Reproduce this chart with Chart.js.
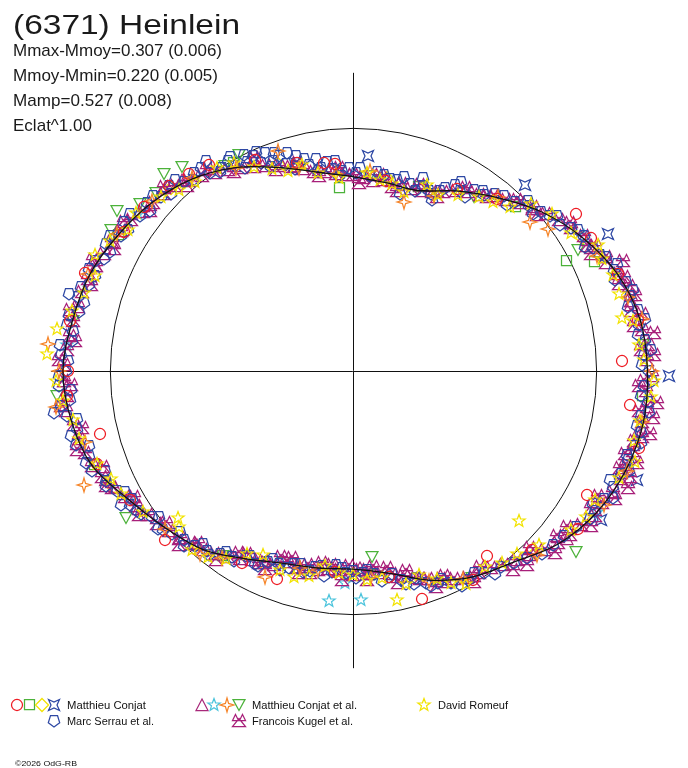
<!DOCTYPE html>
<html>
<head>
<meta charset="utf-8">
<title>(6371) Heinlein</title>
<script src="https://cdn.jsdelivr.net/npm/chart.js@4.4.1/dist/chart.umd.min.js"></script>
<style>
  body { margin: 0; background: #fff; }
  canvas { display: block; }
</style>
</head>
<body>
<canvas id="lightcurve" width="688" height="768"></canvas>
<script>
// polar light curve: angle = rotational phase in degrees (clockwise from top),
// radius = relative flux (1 = mean, the reference circle)

// fitted model
const modelAngle = [0, 10, 20, 30, 40, 50, 60, 70, 80, 90, 100, 110, 120, 130, 140, 150, 160, 170,
                    180, 190, 200, 210, 220, 230, 240, 250, 260, 270, 280, 290, 300, 310, 320, 330, 340, 350];
const modelRadius = [0.795, 0.782, 0.785, 0.850, 0.925, 1.012, 1.090, 1.158, 1.200, 1.212, 1.214, 1.195,
                     1.160, 1.105, 1.026, 0.978, 0.914, 0.843, 0.814, 0.822, 0.841, 0.890, 0.958, 1.005,
                     1.062, 1.141, 1.176, 1.192, 1.171, 1.151, 1.113, 1.074, 1.025, 0.960, 0.885, 0.825];

// observations, [angle, radius]
const conjatCircle = [[55,1.12],[61,1.12],[88,1.11],[97,1.15],[118,1.09],[144,0.94],[163,0.98],[200,0.91],
  [256,1.07],[228,1.04],[301,1.10],[325,1.03],[352,0.86],[355,0.85],[30,0.86],[70,1.16],[105,1.22],
  [125,1.13],[150,0.99],[185,0.83],[240,1.06],[265,1.18],[280,1.18],[290,1.17],[308,1.09],[315,1.07],[335,0.95],
  [10,0.79],[40,0.92],[80,1.19],[135,1.04],[170,0.86],[210,0.91],[250,1.12],[270,1.17],[320,1.05],[345,0.88]];
const conjatSquare = [[356,0.75],[63,0.99],[66,1.09],[20,0.80],[45,0.95],[95,1.20],[175,0.84],[215,0.93],
  [250,1.13],[300,1.11],[330,0.98]];
const conjatDiamond = [[10,0.80],[60,1.09],[135,1.06],[205,0.87],[245,1.10],[315,1.06],[340,0.90]];
const conjatCross = [[4,0.88],[43,1.04],[62,1.19],[91,1.30],[111,1.25],[121,1.19]];

const teamTriangle = [[14,0.79],[48,0.99],[76,1.18],[102,1.20],[128,1.12],[156,0.95],[178,0.81],[196,0.82],
  [222,0.96],[244,1.09],[268,1.19],[292,1.14],[318,1.05],[344,0.87]];
const teamStar = [[186,0.95],[178,0.94],[182,0.87],[306,1.09],[60,1.10],[240,1.06],[275,1.18],[120,1.16]];
const teamSparkle = [[341,0.95],[50,0.95],[54,0.99],[17,0.72],[275,1.26],[263,1.23],[247,1.20],[203,0.92],
  [75,1.17],[100,1.21],[118,1.17],[135,1.07],[160,0.92],[190,0.83],[215,0.94],[230,1.01],[290,1.16],
  [310,1.08],[330,0.96],[355,0.81],[25,0.79],[152,0.97],[80,1.21],
  [5,0.82],[40,0.93],[65,1.11],[90,1.23],[110,1.20],[175,0.85],[195,0.84],[220,0.98],[255,1.14],
  [270,1.21],[300,1.12],[320,1.03],[345,0.86]];
const teamDown = [[316,1.12],[320,1.09],[304,1.17],[308,1.11],[300,1.15],[312,1.09],[328,0.99],[332,1.00],
  [265,1.22],[237,1.11],[174,0.77],[129,1.18],[62,1.05],[85,1.20],[110,1.19],[150,0.98],[200,0.84],
  [215,0.93],[280,1.17],[35,0.87],[5,0.80]];

const romeuf = [[8,0.79],[16,0.76],[26,0.80],[36,0.88],[44,0.93],[52,1.04],[58,1.06],[66,1.12],[74,1.14],
  [79,1.13],[80,1.17],[88,1.20],[95,1.23],[104,1.19],[112,1.18],[118,1.13],[126,1.11],[132,0.92],[133,1.05],
  [138,1.01],[146,0.97],[152,0.99],[158,0.92],[166,0.90],[169,0.96],[176,0.86],[184,0.83],[192,0.86],
  [200,0.87],[206,0.84],[214,0.93],[222,0.99],[228,0.96],[230,0.94],[242,1.08],[250,1.12],[256,1.16],
  [264,1.20],[273,1.26],[278,1.23],[286,1.15],[294,1.16],[302,1.09],[312,1.06],[320,1.01],[326,1.00],
  [334,0.93],[342,0.86],[350,0.82],[356,0.79],
  [4,0.81],[12,0.78],[22,0.82],[31,0.84],[40,0.90],[47,1.00],[63,1.13],[70,1.14],[85,1.18],[92,1.24],
  [100,1.20],[108,1.22],[122,1.13],[142,1.00],[155,0.96],[162,0.88],[172,0.86],[180,0.84],[188,0.81],
  [196,0.88],[210,0.87],[218,0.97],[236,1.04],[246,1.09],[260,1.17],[268,1.22],[282,1.18],[290,1.13],
  [298,1.13],[306,1.10],[316,1.03],[330,0.98],[338,0.89],[346,0.87]];

const serrau = [[1,0.81],[5,0.80],[9,0.81],[13,0.80],[17,0.80],[21,0.81],[24,0.79],[27,0.84],[31,0.86],
  [34,0.89],[37,0.90],[41,0.95],[44,0.96],[47,0.99],[50,1.01],[53,1.05],[57,1.07],[60,1.10],[63,1.11],
  [66,1.14],[69,1.15],[72,1.18],[75,1.18],[78,1.20],[81,1.19],[84,1.21],[87,1.20],[90,1.22],[93,1.20],
  [96,1.22],[99,1.20],[102,1.21],[105,1.20],[108,1.19],[111,1.18],[114,1.17],[117,1.16],[120,1.15],
  [125,1.12],[131,1.09],[137,1.05],[143,1.01],[147,0.99],[151,0.98],[155,0.96],[158,0.94],[161,0.92],
  [164,0.91],[167,0.88],[170,0.86],[174,0.84],[177,0.83],[180,0.82],[183,0.81],[186,0.83],[189,0.81],
  [192,0.84],[195,0.82],[198,0.85],[201,0.85],[204,0.86],[207,0.89],[210,0.88],[213,0.91],[216,0.93],
  [219,0.95],[222,0.97],[225,0.98],[228,1.00],[231,1.03],[234,1.02],[237,1.06],[240,1.05],[243,1.09],
  [246,1.11],[249,1.15],[252,1.14],[255,1.18],[258,1.16],[261,1.19],[264,1.17],[267,1.21],[270,1.18],
  [273,1.20],[276,1.16],[279,1.19],[282,1.15],[285,1.17],[288,1.14],[291,1.16],[294,1.12],[297,1.14],
  [300,1.10],[303,1.12],[306,1.08],[309,1.09],[312,1.06],[315,1.07],[318,1.04],[321,1.04],[324,1.00],
  [327,0.99],[330,0.97],[333,0.96],[336,0.93],[339,0.92],[342,0.89],[345,0.88],[348,0.86],[351,0.84],
  [354,0.83],[357,0.82],[333,0.99],[338,0.96],[343,0.93],
  [2,0.83],[7,0.82],[11,0.80],[15,0.82],[19,0.78],[23,0.80],[26,0.82],[29,0.87],[33,0.85],[36,0.91],
  [39,0.93],[43,0.93],[46,1.00],[49,0.98],[52,1.03],[55,1.04],[58,1.09],[62,1.08],[65,1.12],[68,1.17],
  [71,1.14],[74,1.20],[77,1.16],[80,1.22],[83,1.18],[86,1.23],[89,1.19],[92,1.23],[95,1.19],[98,1.23],
  [101,1.19],[104,1.22],[107,1.18],[110,1.21],[113,1.15],[116,1.19],[119,1.13],[122,1.15],[128,1.10],
  [134,1.08],[140,1.03],[145,1.02],[149,0.97],[153,0.99],[157,0.93],[160,0.94],[163,0.89],[166,0.90],
  [169,0.85],[172,0.87],[176,0.82],[179,0.85],[182,0.83],[185,0.80],[188,0.85],[191,0.82],[194,0.85],
  [197,0.83],[200,0.87],[203,0.84],[206,0.89],[209,0.87],[212,0.92],[215,0.91],[218,0.96],[221,0.94],
  [224,1.00],[227,0.97],[230,1.02],[233,1.00],[236,1.05],[239,1.07],[242,1.06],[245,1.12],[248,1.10],
  [251,1.16],[254,1.13],[257,1.19],[260,1.15],[263,1.21],[266,1.16],[269,1.21],[272,1.17],[275,1.21],
  [278,1.16],[281,1.19],[284,1.14],[287,1.17],[290,1.13],[293,1.15],[296,1.11],[299,1.14],[302,1.09],
  [305,1.12],[308,1.06],[311,1.09],[314,1.04],[317,1.07],[320,1.02],[323,1.04],[326,0.98],[329,1.00],
  [332,0.94],[335,0.97],[338,0.90],[341,0.93],[344,0.86],[347,0.89],[350,0.83],[353,0.86],[356,0.80],
  [359,0.83],
  [325,1.05],[330,1.01],[336,0.98],[340,0.95],[345,0.91],[350,0.88],[355,0.86],[20,0.84],[30,0.89],
  [15,0.75],[25,0.77],[262,1.24],[285,1.21],[240,1.10]];

const kugel = [[0,0.80],[3,0.79],[6,0.78],[9,0.79],[12,0.77],[15,0.79],[18,0.78],[21,0.79],[24,0.80],
  [27,0.82],[30,0.85],[33,0.87],[36,0.89],[39,0.92],[42,0.94],[45,0.97],[48,1.00],[51,1.02],[54,1.05],
  [57,1.07],[60,1.10],[63,1.12],[64,1.09],[66,1.14],[68,1.20],[70,1.16],[72,1.15],[73,1.19],[76,1.18],
  [78,1.17],[79,1.21],[82,1.20],[83,1.25],[85,1.22],[86,1.19],[88,1.21],[91,1.23],[92,1.20],[94,1.21],
  [96,1.26],[97,1.22],[99,1.25],[100,1.21],[103,1.22],[104,1.19],[106,1.20],[108,1.23],[109,1.19],
  [110,1.17],[112,1.19],[113,1.23],[115,1.18],[117,1.13],[118,1.16],[121,1.16],[124,1.13],[126,1.09],
  [127,1.12],[130,1.10],[133,1.08],[136,1.05],[138,1.07],[139,1.03],[142,1.01],[145,0.99],[148,0.98],
  [151,0.97],[154,0.95],[157,0.93],[160,0.91],[162,0.90],[163,0.89],[166,0.87],[169,0.85],[170,0.82],
  [172,0.84],[175,0.83],[176,0.86],[178,0.82],[181,0.80],[183,0.86],[184,0.82],[186,0.80],[187,0.82],
  [190,0.83],[192,0.85],[193,0.82],[196,0.84],[198,0.81],[199,0.83],[202,0.86],[205,0.86],[206,0.88],
  [208,0.88],[210,0.87],[211,0.90],[214,0.92],[217,0.94],[220,0.96],[223,0.97],[226,0.99],[229,1.00],
  [232,1.02],[235,1.03],[238,1.05],[241,1.07],[244,1.10],[247,1.12],[250,1.14],[253,1.15],[256,1.16],
  [259,1.17],[262,1.19],[265,1.18],[268,1.19],[271,1.19],[274,1.18],[277,1.17],[280,1.17],[283,1.16],
  [286,1.16],[289,1.15],[292,1.14],[295,1.13],[298,1.12],[301,1.11],[304,1.10],[307,1.08],[310,1.07],
  [313,1.06],[316,1.05],[319,1.03],[322,1.01],[325,0.99],[328,0.97],[331,0.95],[334,0.93],[337,0.91],
  [340,0.89],[343,0.87],[346,0.85],[349,0.83],[352,0.82],[355,0.81],[358,0.80],
  [2,0.77],[8,0.81],[14,0.76],[20,0.81],[26,0.79],[32,0.88],[38,0.90],[44,0.97],[50,0.99],[56,1.08],
  [62,1.09],[67,1.13],[71,1.18],[75,1.20],[81,1.17],[87,1.24],[93,1.18],[98,1.19],[102,1.25],[107,1.17],
  [111,1.22],[116,1.20],[120,1.13],[123,1.17],[129,1.08],[132,1.12],[135,1.03],[141,1.05],[147,0.96],
  [150,1.00],[156,0.92],[159,0.95],[165,0.85],[168,0.89],[174,0.81],[180,0.84],[189,0.80],[195,0.86],
  [201,0.82],[204,0.89],[212,0.88],[216,0.96],[222,0.95],[225,1.01],[231,0.99],[236,1.06],[240,1.04],
  [245,1.12],[249,1.10],[254,1.18],[258,1.14],[263,1.21],[267,1.16],[272,1.21],[276,1.15],[282,1.19],
  [288,1.13],[293,1.16],[297,1.10],[303,1.12],[308,1.06],[314,1.08],[318,1.02],[324,1.02],[329,0.95],
  [335,0.96],[339,0.88],[345,0.88],[350,0.81],[356,0.83]];

const colors = {
  red: '#ee1c24', green: '#4cb23a', yellow: '#f2e300', blue: '#2e48a4',
  purple: '#a8287a', cyan: '#4cc4dc', orange: '#f6862a', magenta: '#a8207a'
};

// small open markers drawn once, used as pointStyle images
function marker(kind, color) {
  const c = document.createElement('canvas');
  c.width = 18; c.height = 18;
  const g = c.getContext('2d');
  g.strokeStyle = color;
  g.lineWidth = 1.25;
  g.lineJoin = 'miter';
  g.beginPath();
  const poly = pts => {
    pts.forEach((p, i) => i ? g.lineTo(p[0], p[1]) : g.moveTo(p[0], p[1]));
    g.closePath();
  };
  const star = (n, ro, ri) => {
    const pts = [];
    for (let i = 0; i < 2 * n; i++) {
      const a = i * Math.PI / n, rr = i % 2 ? ri : ro;
      pts.push([9 + rr * Math.sin(a), 9 - rr * Math.cos(a)]);
    }
    poly(pts);
  };
  switch (kind) {
    case 'circle': g.arc(9, 9, 5.5, 0, Math.PI * 2); break;
    case 'square': g.rect(3.5, 3.5, 10, 10); break;
    case 'diamond': poly([[9, 2.5], [15.5, 9], [9, 15.5], [2.5, 9]]); break;
    case 'cross': poly([[3.5, 3.5], [9, 6], [14.5, 3.5], [12, 9], [14.5, 14.5], [9, 12], [3.5, 14.5], [6, 9]]); break;
    case 'triangle': poly([[9, 3], [15, 14.5], [3, 14.5]]); break;
    case 'down': poly([[3, 3.5], [15, 3.5], [9, 14.5]]); break;
    case 'star': star(5, 6.5, 2.7); break;
    case 'sparkle': poly([[9, 2], [10.6, 7.4], [16, 9], [10.6, 10.6], [9, 16], [7.4, 10.6], [2, 9], [7.4, 7.4]]); break;
    case 'pentagon': poly([[12.5, 3.5], [14.7, 10.8], [9, 15], [3.3, 10.8], [5.5, 3.5]]); break;
    case 'kugel':
      poly([[5.5, 2.5], [8.5, 8.5], [2.5, 8.5]]);
      poly([[12.5, 2.5], [15.5, 8.5], [9.5, 8.5]]);
      poly([[9, 6.5], [15.5, 14.5], [2.5, 14.5]]);
      break;
  }
  g.stroke();
  return c;
}

const marks = {
  circle: marker('circle', colors.red),
  square: marker('square', colors.green),
  diamond: marker('diamond', colors.yellow),
  cross: marker('cross', colors.blue),
  triangle: marker('triangle', colors.purple),
  star: marker('star', colors.cyan),
  sparkle: marker('sparkle', colors.orange),
  down: marker('down', colors.green),
  romeuf: marker('star', colors.yellow),
  pentagon: marker('pentagon', colors.blue),
  kugel: marker('kugel', colors.magenta)
};

const toXY = pts => pts.map(([a, r]) => ({
  x: r * Math.sin(a * Math.PI / 180),
  y: r * Math.cos(a * Math.PI / 180)
}));

const modelPts = toXY(modelAngle.map((a, i) => [a, modelRadius[i]]));
modelPts.push(modelPts[0]);

const pointSet = (label, pts, style) => ({
  label, data: toXY(pts), pointStyle: style, pointRadius: 6, clip: false, showLine: false
});

// stretch text horizontally to the width it has in the reference
function text(ctx, str, x, y, size, width) {
  ctx.font = size + 'px "Liberation Sans", Arial, sans-serif';
  const w = ctx.measureText(str).width;
  ctx.save();
  ctx.translate(x, y);
  ctx.scale(width / w, 1);
  ctx.fillText(str, 0, 0);
  ctx.restore();
}

const backdrop = {
  id: 'backdrop',
  beforeDatasetsDraw(chart) {
    const { ctx, scales: { x, y } } = chart;
    const cx = Math.round(x.getPixelForValue(0)) + 0.5;
    const cy = Math.round(y.getPixelForValue(0)) + 0.5;
    const rad = x.getPixelForValue(1) - x.getPixelForValue(0);
    ctx.save();
    ctx.strokeStyle = '#111';
    ctx.lineWidth = 1;
    ctx.beginPath();
    ctx.arc(cx, cy, rad, 0, Math.PI * 2);
    ctx.stroke();
    ctx.beginPath();
    ctx.moveTo(x.getPixelForValue(-1.24), cy);
    ctx.lineTo(x.getPixelForValue(1.24), cy);
    ctx.moveTo(cx, y.getPixelForValue(1.22));
    ctx.lineTo(cx, y.getPixelForValue(-1.22));
    ctx.stroke();
    ctx.restore();
    // keep marker images crisp at fractional positions
    ctx.imageSmoothingEnabled = false;
  },
  afterDraw(chart) {
    const ctx = chart.ctx;
    ctx.save();
    ctx.fillStyle = '#1a1a1a';
    ctx.textBaseline = 'alphabetic';
    text(ctx, '(6371) Heinlein', 13, 34, 28, 227);
    text(ctx, 'Mmax-Mmoy=0.307 (0.006)', 13, 56, 17, 209);
    text(ctx, 'Mmoy-Mmin=0.220 (0.005)', 13, 81, 17, 205);
    text(ctx, 'Mamp=0.527 (0.008)', 13, 106, 17, 159);
    text(ctx, 'Eclat^1.00', 13, 131, 17, 79);

    // legend
    const put = (img, x, y) => ctx.drawImage(img, x - 9, y - 9);
    put(marks.circle, 17, 705); put(marks.square, 30, 705); put(marks.diamond, 42, 705); put(marks.cross, 54, 705);
    put(marks.triangle, 202, 705); put(marks.star, 214, 705); put(marks.sparkle, 227, 705); put(marks.down, 239, 705);
    put(marks.romeuf, 424, 705);
    put(marks.pentagon, 54, 721);
    put(marks.kugel, 239, 721);
    ctx.fillStyle = '#111';
    text(ctx, 'Matthieu Conjat', 67, 709, 10, 79);
    text(ctx, 'Matthieu Conjat et al.', 252, 709, 10, 105);
    text(ctx, 'David Romeuf', 438, 709, 10, 70);
    text(ctx, 'Marc Serrau et al.', 67, 725, 10, 87);
    text(ctx, 'Francois Kugel et al.', 252, 725, 10, 101);
    text(ctx, '\u00a92026 OdG-RB', 15, 766, 8, 62);
    ctx.restore();
  }
};

new Chart(document.getElementById('lightcurve'), {
  type: 'scatter',
  data: {
    datasets: [
      { label: 'model', data: modelPts, showLine: true, borderColor: '#111', borderWidth: 1.3,
        pointRadius: 0, tension: 0.35, clip: false },
      pointSet('David Romeuf', romeuf, marks.romeuf),
      pointSet('Matthieu Conjat', conjatCircle, marks.circle),
      pointSet('Matthieu Conjat et al. 3', teamSparkle, marks.sparkle),
      pointSet('Marc Serrau et al.', serrau, marks.pentagon),
      pointSet('Francois Kugel et al.', kugel, marks.kugel),
      pointSet('Matthieu Conjat et al. 4', teamDown, marks.down),
      pointSet('Matthieu Conjat et al. 2', teamStar, marks.star),
      pointSet('Matthieu Conjat et al.', teamTriangle, marks.triangle),
      pointSet('Matthieu Conjat 4', conjatCross, marks.cross),
      pointSet('Matthieu Conjat 3', conjatDiamond, marks.diamond),
      pointSet('Matthieu Conjat 2', conjatSquare, marks.square)
    ]
  },
  options: {
    responsive: false,
    animation: false,
    events: [],
    layout: { padding: { left: 12.4, right: 4.6, top: 16.7, bottom: 43.7 } },
    scales: {
      x: { type: 'linear', min: -1.4, max: 1.35, display: false },
      y: { type: 'linear', min: -1.45, max: 1.45, display: false }
    },
    plugins: { legend: { display: false }, tooltip: { enabled: false } }
  },
  plugins: [backdrop]
});
</script>
</body>
</html>
